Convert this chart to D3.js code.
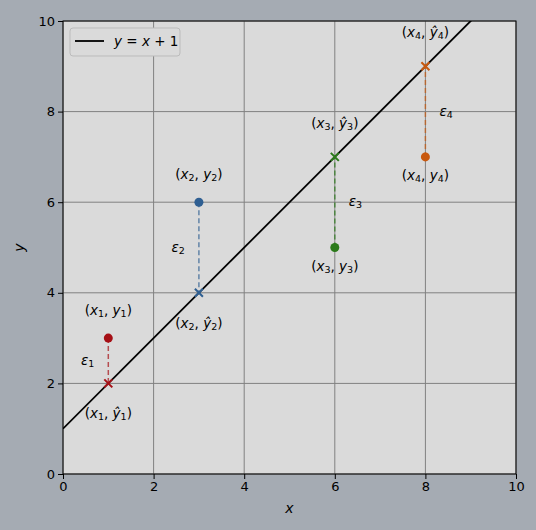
<!DOCTYPE html>
<html><head><meta charset="utf-8">
<script src="https://cdn.jsdelivr.net/npm/d3@7"></script>
<style>body{margin:0;background:#a5abb3;}svg{display:block;font-family:"DejaVu Sans",sans-serif;}</style>
</head><body><svg id="c" width="536" height="530"></svg>
<script>
const xs=[1,3,6,8];
const ys=[3,6,5,7];
const yhat=[2,4,7,9];
const colors=["#a50f15","#2f5f92","#2b7a1a","#c8580e"];
const eSide=["left","left","right","right"];
const ticks=[0,2,4,6,8,10];

const svg=d3.select("#c");
const m={l:63,r:516,t:21,b:474};
const x=d3.scaleLinear().domain([0,10]).range([m.l,m.r]);
const y=d3.scaleLinear().domain([0,10]).range([m.b,m.t]);
svg.append("rect").attr("x",m.l).attr("y",m.t).attr("width",m.r-m.l).attr("height",m.b-m.t).attr("fill","#dadada");
const g=svg.append("g");
ticks.forEach(t=>{
 g.append("line").attr("x1",x(t)).attr("x2",x(t)).attr("y1",m.t).attr("y2",m.b).attr("stroke","#808080").attr("stroke-width",1);
 g.append("line").attr("y1",y(t)).attr("y2",y(t)).attr("x1",m.l).attr("x2",m.r).attr("stroke","#808080").attr("stroke-width",1);
});
const clip=svg.append("clipPath").attr("id","cp").append("rect").attr("x",m.l).attr("y",m.t).attr("width",m.r-m.l).attr("height",m.b-m.t);
svg.append("line").attr("clip-path","url(#cp)").attr("x1",x(0)).attr("y1",y(1)).attr("x2",x(10)).attr("y2",y(11)).attr("stroke","#000").attr("stroke-width",1.8);
svg.append("g").attr("transform",`translate(0,${m.b})`).call(d3.axisBottom(x).tickValues(ticks).tickSize(5).tickSizeOuter(0)).call(a=>{a.select(".domain").remove();a.selectAll("text").attr("font-size",13).attr("fill","#000").attr("font-family","DejaVu Sans");});
svg.append("g").attr("transform",`translate(${m.l},0)`).call(d3.axisLeft(y).tickValues(ticks).tickSize(5).tickSizeOuter(0)).call(a=>{a.select(".domain").remove();a.selectAll("text").attr("font-size",13).attr("fill","#000").attr("font-family","DejaVu Sans");});
svg.append("rect").attr("x",m.l).attr("y",m.t).attr("width",m.r-m.l).attr("height",m.b-m.t).attr("fill","none").attr("stroke","#000").attr("stroke-width",1);
svg.append("text").attr("x",(m.l+m.r)/2).attr("y",513).attr("text-anchor","middle").attr("font-size",14).attr("font-style","italic").text("x");
svg.append("text").attr("transform",`translate(24,${(m.t+m.b)/2}) rotate(-90)`).attr("text-anchor","middle").attr("font-size",14).attr("font-style","italic").text("y");

function label(px,py,i,hat,anchor){
 const t=svg.append("text").attr("x",px).attr("y",py).attr("text-anchor",anchor||"middle").attr("font-size",13.5).attr("dominant-baseline","middle");
 t.append("tspan").text("(");
 t.append("tspan").attr("font-style","italic").text("x");
 t.append("tspan").attr("font-size",9.5).attr("dy",3).text(i+1);
 t.append("tspan").attr("dy",-3).text(", ");
 t.append("tspan").attr("font-style","italic").text(hat?"ŷ":"y");
 t.append("tspan").attr("font-size",9.5).attr("dy",3).text(i+1);
 t.append("tspan").attr("dy",-3).text(")");
}
xs.forEach((xv,i)=>{
 const c=colors[i];
 svg.append("line").attr("x1",x(xv)).attr("x2",x(xv)).attr("y1",y(ys[i])).attr("y2",y(yhat[i])).attr("stroke",c).attr("stroke-opacity",0.7).attr("stroke-width",1.5).attr("stroke-dasharray","5,3");
 svg.append("circle").attr("cx",x(xv)).attr("cy",y(ys[i])).attr("r",4.5).attr("fill",c);
 const s=4;
 svg.append("path").attr("d",`M${x(xv)-s},${y(yhat[i])-s}L${x(xv)+s},${y(yhat[i])+s}M${x(xv)-s},${y(yhat[i])+s}L${x(xv)+s},${y(yhat[i])-s}`).attr("stroke",c).attr("stroke-width",2);
 const above=ys[i]>yhat[i];
 label(x(xv),y(ys[i])+(above?-27:+19),i,false);
 label(x(xv),y(yhat[i])+(above?+31:-33),i,true);
 const my=(y(ys[i])+y(yhat[i]))/2;
 const ex=eSide[i]==="left"?x(xv)-14:x(xv)+14;
 const e=svg.append("text").attr("x",ex).attr("y",my).attr("text-anchor",eSide[i]==="left"?"end":"start").attr("dominant-baseline","middle").attr("font-size",13.5);
 e.append("tspan").attr("font-style","italic").text("ε");
 e.append("tspan").attr("font-size",9.5).attr("dy",3).text(i+1);
});
const lg=svg.append("g");
lg.append("rect").attr("x",70).attr("y",28).attr("width",110).attr("height",28).attr("rx",3).attr("fill","#dadada").attr("stroke","#bbb");
lg.append("line").attr("x1",75).attr("x2",104).attr("y1",41).attr("y2",41).attr("stroke","#000").attr("stroke-width",1.8);
const lt=lg.append("text").attr("x",114).attr("y",42).attr("dominant-baseline","middle").attr("font-size",13.5);
lt.append("tspan").attr("font-style","italic").text("y");
lt.append("tspan").text(" = ");
lt.append("tspan").attr("font-style","italic").text("x");
lt.append("tspan").text(" + 1");
</script></body></html>
